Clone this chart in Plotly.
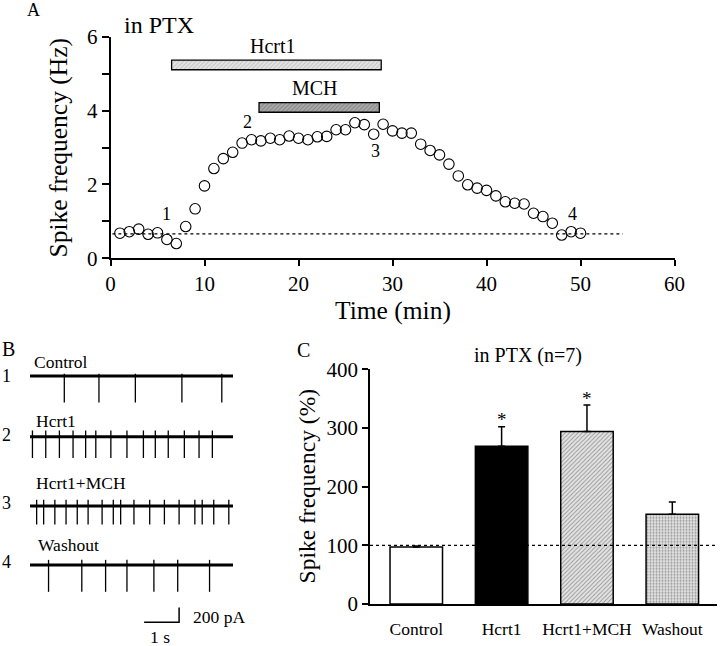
import plotly.graph_objects as go

W, H = 720, 646
FONT = "Liberation Serif"

# ---- panel A: firing rate time course
time_min = list(range(1, 51))
freq_hz = [0.68, 0.72, 0.79, 0.65, 0.69, 0.51, 0.40, 0.86, 1.34, 1.96,
           2.43, 2.70, 2.87, 3.12, 3.21, 3.18, 3.25, 3.21, 3.31, 3.25,
           3.21, 3.29, 3.30, 3.48, 3.48, 3.67, 3.62, 3.36, 3.63, 3.45,
           3.39, 3.39, 3.09, 2.92, 2.80, 2.55, 2.23, 1.99, 1.90, 1.84,
           1.69, 1.53, 1.49, 1.47, 1.22, 1.13, 0.95, 0.63, 0.72, 0.68]
baseline_hz = 0.66
baseline_span = [0.2, 54.5]
drug_names = ["Hcrt1", "MCH"]
drug_start = [6.5, 15.8]
drug_end = [28.8, 28.6]
drug_level = [5.235, 4.085]
drug_fill = ["#e4e4e4", "#aaaaaa"]
drug_hatch = ["#9a9a9a", "#555555"]
point_labels = ["1", "2", "3", "4"]
point_label_x = [6.0, 14.55, 28.2, 49.2]
point_label_y = [1.21, 3.70, 2.91, 1.20]

# ---- panel B: example current traces (spike times in s, amplitudes in pA)
trace_names = ["Control", "Hcrt1", "Hcrt1+MCH", "Washout"]
spike_times = [
    [0.98, 1.97, 3.01, 4.34, 5.48],
    [0.07, 0.45, 0.84, 1.23, 1.59, 1.88, 2.31, 2.77, 3.24, 3.58, 3.95, 4.41, 4.83, 5.21],
    [0.19, 0.39, 0.71, 1.03, 1.35, 1.66, 2.06, 2.38, 2.59, 2.97, 3.42, 3.84, 4.26,
     4.71, 4.92, 5.25, 5.68],
    [0.53, 1.48, 2.16, 2.77, 3.54, 4.22, 5.13],
]
spike_down_pa = [360, 290, 250, 365]
spike_up_pa = [30, 85, 85, 70]
sweep_s = 5.8
scale_s = 1
scale_pa = 200

# ---- panel C: summary bars
groups = ["Control", "Hcrt1", "Hcrt1+MCH", "Washout"]
pct = [97, 269, 294, 153]
sem = [2, 33, 45, 21]
signif = ["", "*", "*", ""]


def px(x, y):
    return x / W, 1 - y / H


PA_PER_PX = scale_pa / 14.7
trace_offset = [-(y - 340) * PA_PER_PX for y in [376, 436.7, 506, 565]]
scale_bottom = -(622.3 - 340) * PA_PER_PX

fig = go.Figure()

# A
fig.add_trace(go.Scatter(x=baseline_span, y=[baseline_hz] * 2, mode="lines",
                         line=dict(color="black", width=1.1, dash="dot"),
                         xaxis="x", yaxis="y", showlegend=False))
for i in range(len(drug_names)):
    fig.add_trace(go.Bar(y=[drug_level[i]], x=[drug_end[i] - drug_start[i]], base=[drug_start[i]],
                         orientation="h", width=0.26, xaxis="x", yaxis="y", showlegend=False,
                         marker=dict(color=drug_fill[i], line=dict(color="black", width=1.3),
                                     pattern=dict(shape="/", fgcolor=drug_hatch[i], size=3, solidity=0.3))))
fig.add_trace(go.Scatter(x=time_min, y=freq_hz, mode="markers", cliponaxis=False,
                         marker=dict(symbol="circle-open", size=10.5, color="black", line=dict(width=1.1)),
                         xaxis="x", yaxis="y", showlegend=False))

# B
for k in range(len(trace_names)):
    off = trace_offset[k]
    fig.add_trace(go.Scatter(x=[0, sweep_s], y=[off, off], mode="lines",
                             line=dict(color="black", width=3), xaxis="x2", yaxis="y2", showlegend=False))
    xs, ys = [], []
    for t in spike_times[k]:
        xs += [t, t, None]
        ys += [off + spike_up_pa[k], off - spike_down_pa[k], None]
    fig.add_trace(go.Scatter(x=xs, y=ys, mode="lines", line=dict(color="black", width=1.3),
                             xaxis="x2", yaxis="y2", showlegend=False))
sb_x0 = 3.26
fig.add_trace(go.Scatter(x=[sb_x0, sb_x0 + scale_s, sb_x0 + scale_s],
                         y=[scale_bottom, scale_bottom, scale_bottom + scale_pa],
                         mode="lines", line=dict(color="black", width=1.5),
                         xaxis="x2", yaxis="y2", showlegend=False))

# C
fig.add_trace(go.Bar(x=[0, 1, 2, 3], y=pct, width=0.615, xaxis="x3", yaxis="y3", showlegend=False,
                     marker=dict(color=["white", "black", "#e4e4e4", "#e2e2e2"],
                                 line=dict(color="black", width=1.5),
                                 pattern=dict(shape=["", "", "/", "."],
                                              fgcolor=["black", "black", "#a0a0a0", "#b4b4b4"],
                                              size=[4, 4, 3, 3], solidity=[0.3, 0.3, 0.3, 0.35])),
                     error_y=dict(type="data", array=sem, arrayminus=[0] * 4, symmetric=False,
                                  width=3.5, thickness=1.5, color="black")))

axis_common = dict(showgrid=False, zeroline=False, showline=True, linecolor="black", linewidth=1.5,
                   ticks="outside", tickcolor="black", tickwidth=1.5, automargin=False,
                   tickfont=dict(family=FONT, size=21, color="black"))

fig.update_layout(
    width=W, height=H, margin=dict(l=0, r=0, t=0, b=0, autoexpand=False),
    paper_bgcolor="white", plot_bgcolor="white", barmode="overlay", showlegend=False,
    font=dict(family=FONT, color="black"),
    xaxis=dict(axis_common, domain=[110.5 / W, 674.5 / W], range=[0, 60], dtick=10, ticklen=6,
               anchor="y"),
    yaxis=dict(axis_common, domain=[1 - 258.3 / H, 1 - 36.7 / H], range=[0, 6], dtick=2, ticklen=7,
               minor=dict(dtick=1, ticks="outside", ticklen=7, tickwidth=1.5, tickcolor="black"),
               anchor="x"),
    xaxis2=dict(domain=[30 / W, 233 / W], range=[0, sweep_s], visible=False, anchor="y2"),
    yaxis2=dict(domain=[1 - 640 / H, 1 - 340 / H], range=[-300 * PA_PER_PX, 0], visible=False,
                anchor="x2"),
    xaxis3=dict(axis_common, domain=[370 / W, 716.7 / W], range=[-0.542, 3.52], ticks="",
                tickvals=[0, 1, 2, 3], ticktext=groups, ticklabelstandoff=8,
                tickfont=dict(family=FONT, size=17.5, color="black"), anchor="y3"),
    yaxis3=dict(axis_common, domain=[1 - 604 / H, 1 - 369.3 / H], range=[0, 400], dtick=100,
                ticklen=6, anchor="x3"),
)

fig.add_shape(type="line", xref="x3 domain", yref="y3", x0=0, x1=1, y0=100, y1=100,
              line=dict(color="black", width=1.2, dash="dot"))

ann = []


def text_px(s, x, y, size, xanchor="center", angle=0):
    xp, yp = px(x, y)
    ann.append(dict(text=s, x=xp, y=yp, xref="paper", yref="paper", xanchor=xanchor,
                    yanchor="middle", showarrow=False, textangle=angle,
                    font=dict(family=FONT, size=size, color="black")))


text_px("A", 33, 10, 18)
text_px("in PTX", 122, 25, 24, "left")
text_px("Spike frequency (Hz)", 58, 147.5, 25.5, angle=-90)
text_px("Time (min)", 393, 310, 25.5)
for i in range(len(drug_names)):
    ann.append(dict(text=drug_names[i], x=(drug_start[i] + drug_end[i]) / 2 - 0.4,
                    y=drug_level[i] + 0.52, xref="x", yref="y", showarrow=False,
                    font=dict(family=FONT, size=20, color="black")))
for i in range(len(point_labels)):
    ann.append(dict(text=point_labels[i], x=point_label_x[i], y=point_label_y[i], xref="x", yref="y",
                    showarrow=False, font=dict(family=FONT, size=18, color="black")))

text_px("B", 8.5, 349, 20)
name_y = [361.5, 421, 483, 544.7]
name_x = [32, 34, 34, 36]
num_y = [376, 435, 503.3, 561.7]
for k in range(len(trace_names)):
    text_px(trace_names[k], name_x[k], name_y[k], 17.5, "left")
    text_px(str(k + 1), 6, num_y[k], 18)
text_px(f"{scale_pa} pA", 191, 616.7, 17.5, "left")
text_px(f"{scale_s} s", 160, 636.7, 17.5)

text_px("C", 303, 350, 20)
text_px("in PTX (n=7)", 528, 355, 20)
text_px("Spike frequency (%)", 306.7, 486.7, 23.5, angle=-90)
for i in range(len(groups)):
    if signif[i]:
        ann.append(dict(text=signif[i], x=i, y=pct[i] + sem[i] + 12, xref="x3", yref="y3",
                        showarrow=False, font=dict(family=FONT, size=19, color="black")))

fig.update_layout(annotations=ann)
fig.write_html("out.html", config={"displayModeBar": False},
               post_script="document.body.style.margin='0px';")
